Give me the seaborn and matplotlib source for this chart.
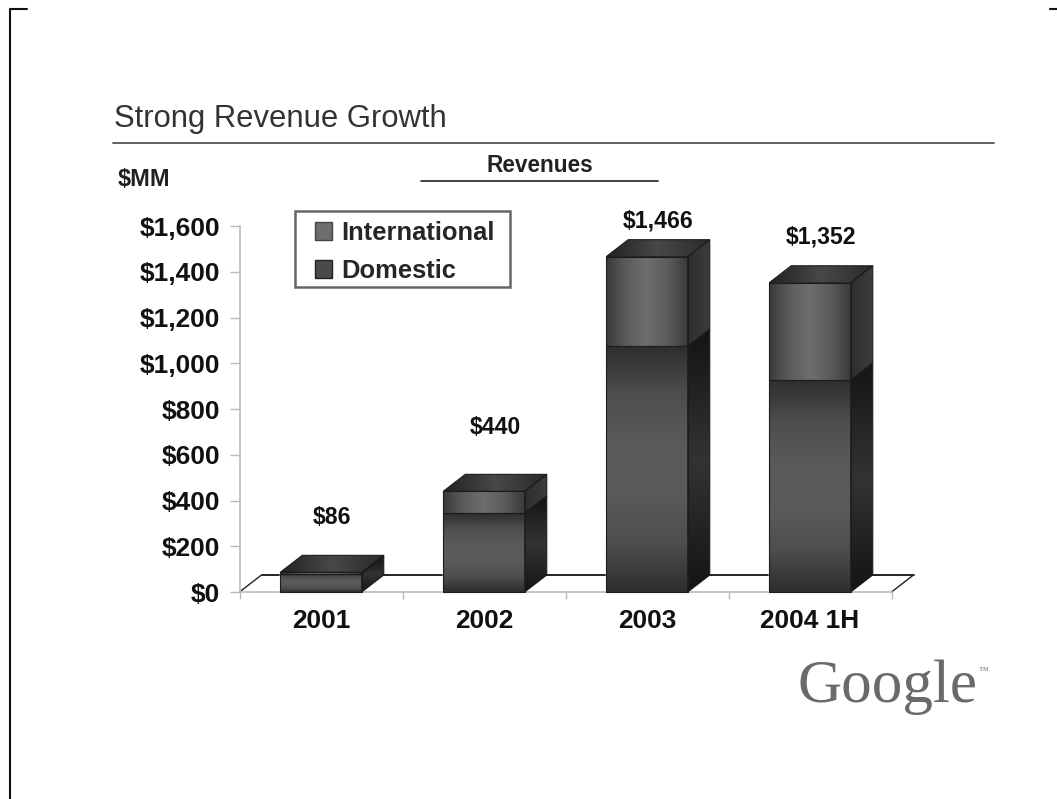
import numpy as np
import pandas as pd
import matplotlib
matplotlib.use('Agg')
import matplotlib.pyplot as plt
import seaborn as sns
from matplotlib.colors import LinearSegmentedColormap
from matplotlib.lines import Line2D
from matplotlib.patches import Patch, Polygon, Rectangle
from matplotlib.transforms import IdentityTransform

# Values ($MM)
years = ['2001', '2002', '2003', '2004 1H']
domestic = [80, 345, 1075, 927]
international = [6, 95, 391, 425]
total_labels = ['$86', '$440', '$1,466', '$1,352']
y_ticks = [0, 200, 400, 600, 800, 1000, 1200, 1400, 1600]
y_tick_labels = ['$0', '$200', '$400', '$600', '$800', '$1,000', '$1,200', '$1,400', '$1,600']

# Layout of the slide, in pixels
W, H = 1057, 799
DEPTH_X, DEPTH_Y = 22, 17
label_lift = [55, 64, 36, 46]

sns.set_theme(style='white')
plt.rcParams['font.family'] = ['Liberation Sans', 'DejaVu Sans']

df = pd.DataFrame({'year': years, 'domestic': domestic, 'international': international})
df['total'] = df['domestic'] + df['international']

fig = plt.figure(figsize=(W / 100, H / 100), dpi=100, facecolor='white')
ax = fig.add_axes([239.5 / W, 1 - 592 / H, 652 / W, 366 / H])

# Stacked bars: totals behind, domestic in front
sns.barplot(data=df, x='year', y='total', color='#6e6e6e', width=0.5, saturation=1, ax=ax, zorder=3)
sns.barplot(data=df, x='year', y='domestic', color='#4a4a4a', width=0.5, saturation=1, ax=ax, zorder=3)

ax.set_xlim(-0.5, 3.5)
ax.set_ylim(0, 1600)
ax.set_xlabel('')
ax.set_ylabel('')
ax.set_yticks(y_ticks)
ax.set_yticklabels(y_tick_labels, fontsize=18.9, fontweight='bold', color='#111111')
ax.set_xticks([-0.5, 0.5, 1.5, 2.5, 3.5], minor=True)
ax.set_xticks(range(4))
ax.set_xticklabels(years, fontsize=18.9, fontweight='bold', color='#111111')
ax.tick_params(axis='x', which='major', length=0, pad=12)
ax.tick_params(axis='x', which='minor', length=5, width=1, color='#bbbbbb', bottom=True)
ax.tick_params(axis='y', length=7, width=1, color='#bbbbbb', left=True, pad=7)
sns.despine(ax=ax)
for side in ['left', 'bottom']:
    ax.spines[side].set_color('#bbbbbb')
    ax.spines[side].set_linewidth(1.2)


def to_px(x, y):
    return ax.transData.transform((x, y))


def shade(verts, colors, vertical=False, z=4):
    # Fill a polygon (display pixels) with a grey gradient
    verts = np.array(verts)
    cmap = LinearSegmentedColormap.from_list('face', colors)
    ramp = np.linspace(0, 1, 256)
    ramp = ramp.reshape(-1, 1) if vertical else ramp.reshape(1, -1)
    extent = [verts[:, 0].min(), verts[:, 0].max(), verts[:, 1].min(), verts[:, 1].max()]
    im = ax.imshow(ramp, cmap=cmap, extent=extent, aspect='auto', origin='lower',
                   transform=IdentityTransform(), zorder=z, interpolation='bilinear')
    clip = Polygon(verts, closed=True, transform=IdentityTransform())
    im.set_clip_path(clip)
    outline = Polygon(verts, closed=True, fill=False, edgecolor='#1c1c1c', linewidth=0.8,
                      transform=IdentityTransform(), zorder=z + 0.1, clip_on=False)
    ax.add_patch(outline)


# Floor of the 3D chart
floor = [to_px(-0.5, 0), to_px(-0.5, 0) + (DEPTH_X, DEPTH_Y),
         to_px(3.5, 0) + (DEPTH_X, DEPTH_Y), to_px(3.5, 0)]
back = np.array(floor[1:3])
ax.add_line(Line2D(back[:, 0], back[:, 1], color='#111111', lw=1.3, transform=IdentityTransform(), zorder=2, clip_on=False))
for edge in ([floor[0], floor[1]], [floor[3], floor[2]]):
    edge = np.array(edge)
    ax.add_line(Line2D(edge[:, 0], edge[:, 1], color='#222222', lw=1, transform=IdentityTransform(), zorder=2, clip_on=False))

# Gradient faces on top of the seaborn bars
offset = np.array([DEPTH_X, DEPTH_Y])
n = len(years)
for total_bar, dom_bar in zip(ax.patches[:n], ax.patches[n:2 * n]):
    x0 = total_bar.get_x()
    x1 = x0 + total_bar.get_width()
    top = total_bar.get_height()
    mid = dom_bar.get_height()
    a, b = to_px(x0, 0), to_px(x1, 0)
    c, d = to_px(x1, mid), to_px(x0, mid)
    e, f = to_px(x1, top), to_px(x0, top)
    shade([a, b, c, d], ['#2e2e2e', '#4e4e4e', '#5a5a5a', '#5a5a5a', '#4e4e4e', '#2e2e2e'], vertical=True)
    shade([d, c, e, f], ['#3a3a3a', '#5c5c5c', '#6e6e6e', '#5c5c5c', '#3a3a3a'])
    shade([b, b + offset, c + offset, c], ['#141414', '#333333', '#141414'], vertical=True)
    shade([c, c + offset, e + offset, e], ['#2e2e2e', '#3c3c3c'])
    shade([f, e, e + offset, f + offset], ['#222222', '#484848', '#2a2a2a'])

# Totals above the bars
for i, (label, lift) in enumerate(zip(total_labels, label_lift)):
    ax.annotate(label, xy=(i, df['total'][i]), xytext=(DEPTH_X / 2, lift), textcoords='offset pixels',
                ha='center', va='center', fontsize=16.6, fontweight='bold', color='#111111',
                annotation_clip=False, zorder=6)

# Legend box, then the entries inside it
ax.add_patch(Rectangle((295, H - 287), 215, 76, facecolor='white', edgecolor='#666666', linewidth=1.8,
                       transform=IdentityTransform(), zorder=6.5, clip_on=False))
handles = [Patch(facecolor='#6e6e6e', edgecolor='#444444', label='International'),
           Patch(facecolor='#4a4a4a', edgecolor='#222222', label='Domestic')]
leg = ax.legend(handles=handles, loc='upper left', bbox_to_anchor=(75 / 652, 371 / 366),
                borderaxespad=0, prop={'weight': 'bold', 'size': 18.4}, frameon=False,
                handlelength=0.7, handleheight=0.7, handletextpad=0.35,
                labelspacing=0.54, borderpad=0)
leg.set_zorder(7)


def fx(x):
    return x / W


def fy(y):
    return 1 - y / H


# Slide furniture
fig.text(fx(114), fy(119.5), 'Strong Revenue Growth', fontsize=22.3, color='#333333', va='center')
fig.add_artist(Line2D([fx(113), fx(994)], [fy(143), fy(143)], color='#555555', lw=1.3))
fig.text(fx(118), fy(179), '$MM', fontsize=16.9, fontweight='bold', color='#222222', va='center')
fig.text(fx(539.5), fy(166), 'Revenues', fontsize=16.3, fontweight='bold', color='#222222', ha='center', va='center')
fig.add_artist(Line2D([fx(421), fx(658)], [fy(181), fy(181)], color='#222222', lw=1.2))

# Crop marks at the edge of the page
fig.add_artist(Line2D([fx(9.5), fx(9.5), fx(27)], [0, fy(9), fy(9)], color='#111111', lw=1.5))
fig.add_artist(Line2D([fx(1050), fx(1057)], [fy(9), fy(9)], color='#111111', lw=1.5))

# Logo
fig.text(fx(797), fy(702), 'Google', fontsize=44, family='Liberation Serif', color='#6a6a6a', va='baseline')
fig.text(fx(979), fy(674), '™', fontsize=7, family='Liberation Serif', color='#777777', va='baseline')

fig.savefig('out.png', dpi=100)
